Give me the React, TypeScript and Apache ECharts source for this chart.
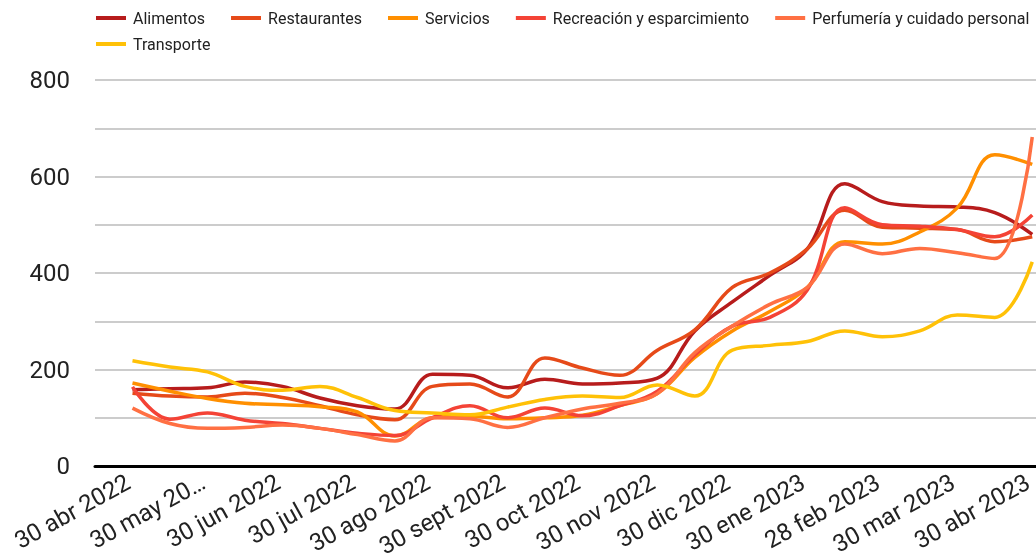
import React, { useEffect, useRef } from 'react';
import * as echarts from 'echarts';

const tickLabels = ['30 abr 2022', '30 may 20…', '30 jun 2022', '30 jul 2022', '30 ago 2022', '30 sept 2022', '30 oct 2022', '30 nov 2022', '30 dic 2022', '30 ene 2023', '28 feb 2023', '30 mar 2023', '30 abr 2023'];

const seriesNames = ['Alimentos', 'Restaurantes', 'Servicios', 'Recreación y esparcimiento', 'Perfumería y cuidado personal', 'Transporte'];
const colors = ['#B71C1C', '#E64A19', '#FF8F00', '#F44336', '#FF7043', '#FFC107'];

const alimentos = [158, 160, 162, 174, 165, 141, 125, 118, 190, 188, 162, 180, 170, 172, 182, 280, 340, 395, 450, 585, 548, 539, 537, 525, 480];
const restaurantes = [151, 145, 143, 151, 142, 125, 106, 96, 165, 170, 143, 224, 203, 188, 240, 282, 370, 400, 450, 530, 495, 493, 490, 465, 475];
const servicios = [172, 155, 140, 130, 127, 123, 112, 62, 100, 103, 98, 100, 105, 125, 150, 225, 280, 320, 370, 465, 460, 485, 535, 645, 625];
const recreacion = [164, 97, 110, 95, 88, 78, 68, 63, 100, 125, 100, 120, 104, 125, 155, 230, 290, 308, 365, 535, 500, 497, 490, 475, 520];
const perfumeria = [120, 88, 78, 80, 85, 78, 65, 52, 100, 98, 80, 100, 118, 130, 150, 235, 290, 335, 370, 460, 440, 451, 442, 430, 682];
const transporte = [218, 205, 195, 165, 157, 165, 142, 115, 110, 106, 122, 138, 145, 142, 168, 145, 240, 250, 258, 280, 268, 280, 313, 308, 423];

const allValues = [alimentos, restaurantes, servicios, recreacion, perfumeria, transporte];

export default function App() {
  const ref = useRef<HTMLDivElement>(null);
  useEffect(() => {
    if (!ref.current) return;
    const chart = echarts.init(ref.current, undefined, { renderer: 'svg' });
    const font = 'Roboto, "Noto Sans", sans-serif';
    const legendCommon = {
      itemWidth: 30,
      itemHeight: 4,
      itemGap: 26,
      padding: 0,
      icon: 'rect',
      textStyle: { fontSize: 16, color: '#222', fontFamily: font, padding: [0, 0, 0, 2] },
    };
    chart.setOption({
      animation: false,
      color: colors,
      legend: [
        { ...legendCommon, left: 96, top: 10, data: seriesNames.slice(0, 5) },
        { ...legendCommon, left: 96, top: 36, data: seriesNames.slice(5) },
      ],
      grid: { left: 95, right: 0, top: 80, bottom: 92, containLabel: false, outerBoundsMode: 'none' },
      xAxis: {
        type: 'value',
        min: 0,
        max: 25.1,
        interval: 1,
        axisLine: { show: true, onZero: false, lineStyle: { color: '#000', width: 3 } },
        axisTick: { show: false },
        splitLine: { show: false },
        axisLabel: {
          rotate: 29,
          margin: 12,
          fontSize: 24,
          color: '#222',
          fontFamily: font,
          padding: [0, 5, 0, 0],
          showMinLabel: true,
          showMaxLabel: false,
          formatter: (v: number) => (Number.isInteger(v) && v % 2 === 1 ? tickLabels[(v - 1) / 2] : ''),
        },
      },
      yAxis: {
        type: 'value',
        min: 0,
        max: 800,
        interval: 100,
        axisLine: { show: false },
        axisTick: { show: false },
        splitLine: { lineStyle: { color: '#cccccc', width: 2 } },
        axisLabel: {
          margin: 25,
          fontSize: 24,
          color: '#222',
          fontFamily: font,
          formatter: (v: number) => (v % 200 === 0 ? String(v) : ''),
        },
      },
      series: seriesNames.map((name, si) => ({
        name,
        type: 'line',
        smooth: 0.4,
        showSymbol: false,
        symbol: 'none',
        lineStyle: { width: 3.5, color: colors[si] },
        itemStyle: { color: colors[si] },
        data: allValues[si].map((v, i) => [i + 1, v]),
      })),
    });
    return () => chart.dispose();
  }, []);
  return <div ref={ref} style={{ position: 'fixed', left: 0, top: 0, width: 1036, height: 558 }} />;
}
